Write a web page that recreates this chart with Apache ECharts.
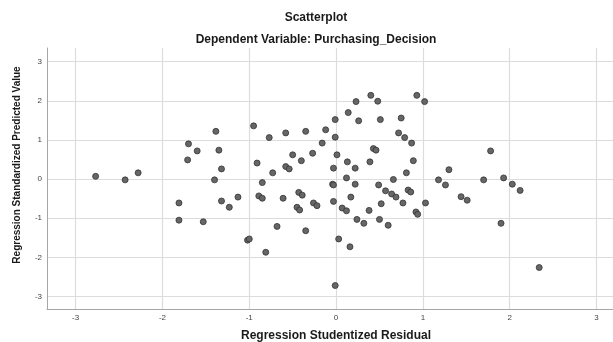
<!DOCTYPE html>
<html>
<head>
<meta charset="utf-8">
<script src="https://cdn.jsdelivr.net/npm/echarts@6/dist/echarts.min.js"></script>
<style>
  html, body { margin: 0; padding: 0; background: #fff; }
  #chart { width: 613px; height: 342px; }
</style>
</head>
<body>
<div id="chart"></div>
<script>
// Regression Studentized Residual (x) and Standardized Predicted Value (y)
const residual = [
  -2.77, -2.43, -2.28, -1.70, -1.60, -1.71, -1.385, -1.35, -1.32, -1.40, -1.13, -1.81, -1.81, -1.53, -1.32, -1.23,
  -0.95, -0.77, -0.58, -0.35, -0.12, -0.01, -0.01, 0.14, 0.23, 0.26, 0.40, 0.48, 0.51, 0.75, 0.72, 0.79, 0.87, 0.93,
  -0.16, -0.50, -0.27, -0.40, -0.91, -0.58, -0.54, -0.73, -0.85, 0.01, -0.03, 0.13, 0.22, 0.12, -0.04, -0.03, 0.22,
  0.43, 0.46, 0.39, 0.89, 0.81, 0.66, 0.49, 0.57, 0.64, 0.69, 0.83, 0.86, -0.89, -0.85, -0.61, -0.43, -0.39, 0.17,
  -0.45, -0.42, -0.26, -0.22, -0.03, 0.07, 0.12, 0.24, 0.32, 0.38, 0.52, 0.50, 0.60, 0.77, 0.92, 0.94,
  -0.68, -1.02, -1.00, -0.81, -0.35, 0.03, 0.16, -0.01,
  1.02, 1.18, 1.30, 1.26, 1.44, 1.51, 1.70, 1.78, 1.93, 2.03, 2.12, 1.03, 1.90, 2.34
];
const predicted = [
  0.07, -0.02, 0.16, 0.90, 0.72, 0.49, 1.22, 0.74, 0.26, -0.02, -0.46, -0.61, -1.05, -1.09, -0.56, -0.72,
  1.36, 1.06, 1.18, 1.22, 1.26, 1.52, 1.07, 1.70, 1.98, 1.49, 2.14, 1.99, 1.52, 1.56, 1.18, 1.06, 0.92, 2.14,
  0.92, 0.62, 0.66, 0.47, 0.41, 0.32, 0.26, 0.16, -0.09, 0.62, 0.28, 0.44, 0.28, 0.03, -0.13, -0.15, -0.13,
  0.78, 0.74, 0.44, 0.47, 0.16, -0.01, -0.15, -0.30, -0.38, -0.46, -0.28, -0.33, -0.43, -0.49, -0.49, -0.34, -0.41, -0.46,
  -0.72, -0.79, -0.61, -0.68, -0.57, -0.74, -0.81, -1.03, -1.13, -0.80, -0.63, -1.03, -1.18, -0.61, -0.84, -0.90,
  -1.21, -1.56, -1.53, -1.87, -1.32, -1.53, -1.73, -2.72,
  1.98, -0.02, 0.24, -0.15, -0.45, -0.54, -0.02, 0.72, 0.03, -0.13, -0.29, -0.61, -1.13, -2.26
];
const xTicks = [-3, -2, -1, 0, 1, 2, 3];
const yTicks = [-3, -2, -1, 0, 1, 2, 3];

const points = residual.map((x, i) => [x, predicted[i]]);
const font = '"Liberation Sans", Arial, sans-serif';

const chart = echarts.init(document.getElementById('chart'));

const axisCommon = {
  type: 'value',
  axisLine: { show: true, onZero: false, lineStyle: { color: '#a6a6a6', width: 1 } },
  axisTick: { show: false },
  splitLine: { show: true, lineStyle: { color: '#dcdcdc', width: 1.2 } },
  axisLabel: { color: '#444', fontSize: 8, fontFamily: font }
};

chart.setOption({
  animation: false,
  grid: { left: 47, top: 48, right: 0, bottom: 33, containLabel: false },
  xAxis: Object.assign({}, axisCommon, {
    min: -3.33,
    max: 3.19,
    axisTick: { show: false, customValues: xTicks },
    axisLabel: Object.assign({}, axisCommon.axisLabel, { customValues: xTicks, margin: 5 })
  }),
  yAxis: Object.assign({}, axisCommon, {
    min: -3.32,
    max: 3.35,
    axisTick: { show: false, customValues: yTicks },
    axisLabel: Object.assign({}, axisCommon.axisLabel, { customValues: yTicks, margin: 5 })
  }),
  graphic: [
    { type: 'text', x: 316, y: 18, style: { text: 'Scatterplot', font: 'bold 12px ' + font, fill: '#1a1a1a', align: 'center', verticalAlign: 'middle' } },
    { type: 'text', x: 316, y: 40, style: { text: 'Dependent Variable: Purchasing_Decision', font: 'bold 12px ' + font, fill: '#1a1a1a', align: 'center', verticalAlign: 'middle' } },
    { type: 'text', x: 336, y: 336, style: { text: 'Regression Studentized Residual', font: 'bold 12px ' + font, fill: '#1a1a1a', align: 'center', verticalAlign: 'middle' } },
    { type: 'text', x: 17, y: 165, rotation: Math.PI / 2, style: { text: 'Regression Standardized Predicted Value', font: 'bold 10px ' + font, fill: '#1a1a1a', align: 'center', verticalAlign: 'middle' } }
  ],
  series: [{
    type: 'scatter',
    data: points,
    symbolSize: 6,
    itemStyle: { color: '#666666', borderColor: '#333333', borderWidth: 0.8, opacity: 1 }
  }]
});
</script>
</body>
</html>
